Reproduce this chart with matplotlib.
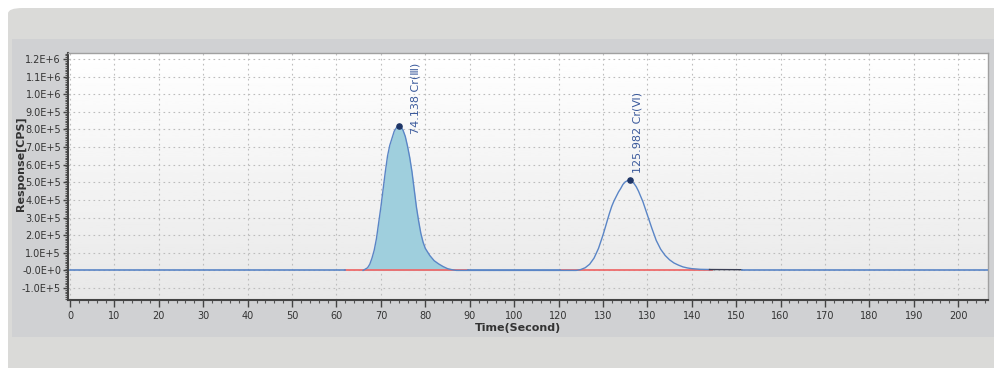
import numpy as np
import matplotlib
matplotlib.use("Agg")
import matplotlib.pyplot as plt
from matplotlib.patches import Rectangle, FancyBboxPatch
from matplotlib.ticker import MultipleLocator, FixedLocator, FixedFormatter

# chromatogram (time in s, response in 1e5 CPS)
time = [0, 62, 66, 67, 67.5, 68, 68.5, 69, 69.5, 70, 70.5, 71, 71.5, 72, 72.5,
        73, 73.5, 74.138, 74.5, 75, 75.5, 76, 76.5, 77, 77.5, 78, 78.5, 79,
        79.5, 80, 81, 82, 83, 84, 85, 86, 87, 110, 114, 115, 116, 117, 118,
        119, 120, 120.5, 121, 121.5, 122, 122.5, 123, 123.5, 124, 124.5, 125,
        125.5, 125.982, 126.5, 127, 127.5, 128, 129, 130, 131, 132, 133, 134,
        135, 136, 137, 138, 139, 140, 142, 144]
response = [0, 0, 0, 0.15, 0.35, 0.7, 1.15, 1.8, 2.7, 3.6, 4.6, 5.6, 6.5, 7.1,
            7.5, 7.9, 8.1, 8.2, 8.15, 7.95, 7.6, 7.05, 6.4, 5.6, 4.6, 3.6, 2.8,
            2.1, 1.6, 1.25, 0.85, 0.55, 0.37, 0.22, 0.1, 0.04, 0, 0, 0, 0.05,
            0.15, 0.35, 0.7, 1.25, 2.0, 2.42, 2.85, 3.27, 3.65, 3.95, 4.2, 4.45,
            4.65, 4.88, 5.02, 5.09, 5.11, 5.05, 4.93, 4.75, 4.5, 3.9, 3.15, 2.4,
            1.7, 1.2, 0.85, 0.6, 0.42, 0.3, 0.2, 0.14, 0.1, 0.06, 0.05]
tail_time = [144, 151.3]
tail_resp = [0.05, 0.04]
base_time = [151.3, 206.7]
base_resp = [0, 0]

peak_times = [74.138, 125.982]
peak_heights = [8.2, 5.11]
peak_labels = ["74.138 Cr(Ⅲ)", "125.982 Cr(Ⅵ)"]
peak_offsets = [(12, -6), (6, 5)]

# integration baselines (red)
baseline_segments = [(62, 89.6), (110.4, 144.6)]
fill_range = (66, 87)

x_ticks = list(range(0, 201, 10))
x_tick_labels = ['0', '10', '20', '30', '40', '50', '60', '70', '80', '90', '100',
                 '120', '130', '130', '140', '150', '160', '170', '180', '190', '200']
y_ticks = [-1, 0, 1, 2, 3, 4, 5, 6, 7, 8, 9, 10, 11, 12]
y_tick_labels = ['-1.0E+5', '-0.0E+0', '1.0E+5', '2.0E+5', '3.0E+5', '4.0E+5',
                 '5.0E+5', '6.0E+5', '7.0E+5', '8.0E+5', '9.0E+5', '1.0E+6',
                 '1.1E+6', '1.2E+6']

scale = 1e5
time = np.array(time)
response = np.array(response) * scale

W, H = 995, 368
fig = plt.figure(figsize=(W / 100, H / 100), dpi=100, facecolor='white')

def px(x0, y0, x1, y1):
    # pixel box (top-left origin) -> figure fraction
    return x0 / W, 1 - y1 / H, (x1 - x0) / W, (y1 - y0) / H

x, y, w, h = px(8, 8, 1010, 380)
fig.patches.append(FancyBboxPatch((x, y), w, h, boxstyle="round,pad=0,rounding_size=0.015",
                                  transform=fig.transFigure, facecolor='#dadad8',
                                  edgecolor='none', zorder=-3))
x, y, w, h = px(12, 39, 995, 337)
fig.patches.append(Rectangle((x, y), w, h, transform=fig.transFigure,
                             facecolor='#d0d1d3', edgecolor='none', zorder=-2))

ax = fig.add_axes(px(68, 53, 988, 300))
ax.set_facecolor('none')
grad = np.linspace(1, 0.91, 100).reshape(-1, 1)
ax.imshow(grad, cmap='gray', vmin=0, vmax=1, aspect='auto', extent=(0, 1, 0, 1),
          transform=ax.transAxes, zorder=0)

ax.set_xlim(-0.45, 206.7)
ax.set_ylim(-1.68e5, 1.234e6)

line_c = '#5a85c6'
ax.fill_between(time, response, 0,
                where=(time >= fill_range[0]) & (time <= fill_range[1]),
                color='#9fcfdd', zorder=2, linewidth=0)
for a, b in baseline_segments:
    ax.plot([a, b], [0, 0], color='#ee6b6b', lw=1.3, zorder=3)
ax.plot([0, 62], [0, 0], color=line_c, lw=1.2, zorder=3)
ax.plot([89.6, 110.4], [0, 0], color=line_c, lw=1.2, zorder=3)
ax.plot(time[2:], response[2:], color=line_c, lw=1.0, zorder=4)
ax.plot(tail_time, np.array(tail_resp) * scale, color='#3a3f55', lw=1.0, zorder=4)
ax.plot(base_time, base_resp, color=line_c, lw=1.2, zorder=4)

ax.scatter(peak_times, np.array(peak_heights) * scale, s=14, color='#1e3566', zorder=5)
for t, hgt, lab, off in zip(peak_times, peak_heights, peak_labels, peak_offsets):
    ax.annotate(lab, xy=(t, hgt * scale), xytext=off, textcoords='offset points',
                rotation=90, ha='center', va='bottom', fontsize=8,
                color='#3b5a9c', family=['DejaVu Sans', 'Noto Sans CJK SC'], zorder=6)

ax.xaxis.set_major_locator(FixedLocator(x_ticks))
ax.xaxis.set_major_formatter(FixedFormatter(x_tick_labels))
ax.xaxis.set_minor_locator(MultipleLocator(2))
ax.yaxis.set_major_locator(FixedLocator([v * scale for v in y_ticks]))
ax.yaxis.set_major_formatter(FixedFormatter(y_tick_labels))
ax.yaxis.set_minor_locator(MultipleLocator(1e4))

ax.grid(True, which='major', color='#bdbdbd', linestyle=(0, (1.5, 3)), lw=0.8, zorder=1)
ax.tick_params(axis='x', which='major', direction='out', length=5, width=1, color='#444',
               labelsize=7, labelcolor='#333', pad=3)
ax.tick_params(axis='y', which='major', direction='out', length=3.5, width=1, color='#444',
               labelsize=7, labelcolor='#333', pad=1.5)
ax.tick_params(which='minor', direction='out', length=2.2, width=0.8, color='#555')
for s in ['left', 'bottom']:
    ax.spines[s].set_color('#444')
    ax.spines[s].set_linewidth(1.5)
for s in ['top', 'right']:
    ax.spines[s].set_color('#a0a0a0')
    ax.spines[s].set_linewidth(1.0)

ax.set_xlabel('Time(Second)', fontsize=8, color='#333', fontweight='bold')
ax.xaxis.set_label_coords(0.489, -0.095)
ax.set_ylabel('Response[CPS]', fontsize=8, color='#333', fontweight='bold')
ax.yaxis.set_label_coords(-0.046, 0.55)

fig.savefig('out.png', dpi=100, facecolor=fig.get_facecolor())
